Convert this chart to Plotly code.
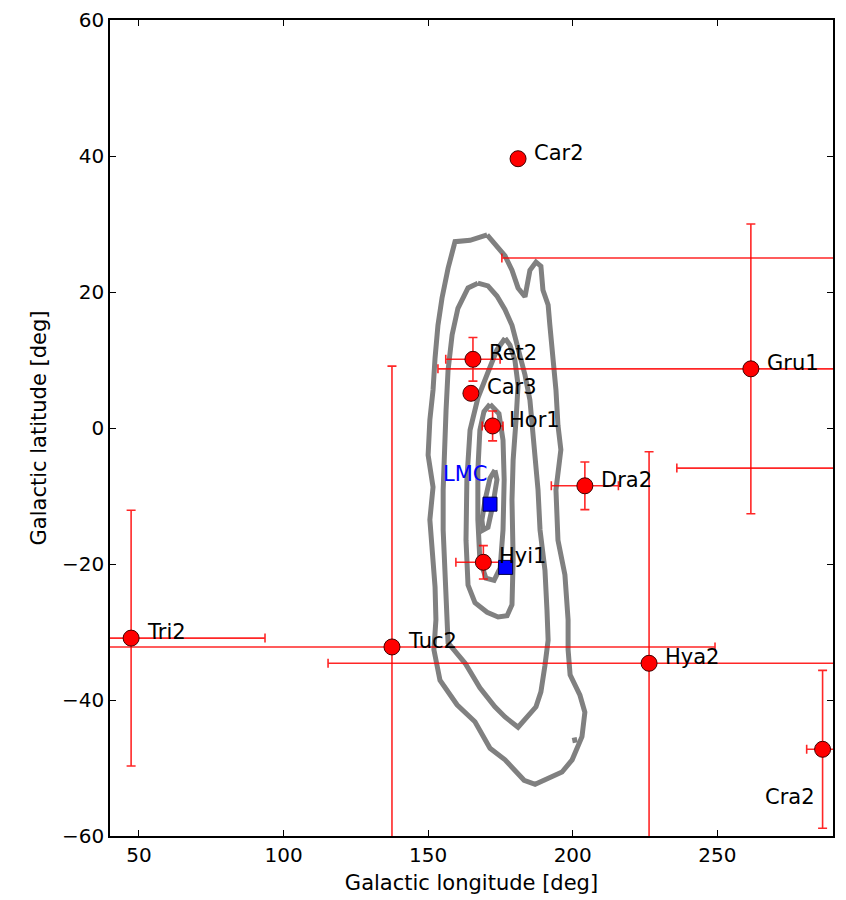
import plotly.graph_objects as go

# ---- satellites (Galactic longitude / latitude, deg) ----
names = ["Car2", "Gru1", "Ret2", "Car3", "Hor1", "Dra2", "Hyi1", "Tri2", "Tuc2", "Hya2", "Cra2", "", ""]
lon = [181.1, 261.6, 165.5, 164.8, 172.3, 204.2, 169.1, 47.3, 137.5, 226.4, 286.4, 310.0, 300.0]
lat = [39.6, 8.7, 10.1, 5.1, 0.3, -8.5, -19.75, -30.9, -32.2, -34.6, -47.25, 25.0, -5.9]
lon_err_lo = [0, 108.2, 9.4, 0, 3.6, 11.6, 9.5, 46.3, 111.7, 111.0, 5.5, 134.5, 64.0]
lon_err_hi = [0, 108.2, 9.4, 0, 3.6, 11.6, 9.5, 46.3, 111.7, 111.0, 5.5, 134.5, 64.0]
lat_err_lo = [0, 21.3, 3.2, 0, 2.2, 3.5, 2.45, 18.8, 41.3, 31.1, 11.6, 10.0, 10.0]
lat_err_hi = [0, 21.3, 3.2, 0, 2.2, 3.5, 2.45, 18.8, 41.3, 31.1, 11.6, 10.0, 10.0]

# ---- LMC ----
lmc_lon = [171.4, 176.8]
lmc_lat = [-11.2, -20.5]
lmc_name = "LMC"

# ---- LMC debris density contours ----
c1_lon = [170.4, 173.8, 176.6, 179.0, 181.1, 183.5, 185.2, 187.3, 189.0, 189.7, 191.5, 192.1, 193.2,
          194.2, 194.9, 195.9, 194.2, 194.9, 197.3, 198.4, 198.4, 199.1, 202.5, 204.2, 203.2, 199.8,
          196.3, 192.8, 187.0, 183.2, 176.6, 171.4, 166.2, 160.0, 154.1, 152.0, 152.7, 152.4, 151.7,
          150.6, 151.7, 150.0, 150.6, 151.7, 152.4, 153.4, 154.8, 156.9, 159.3, 164.5, 170.4]
c1_lat = [28.4, 26.8, 25.3, 23.2, 20.6, 19.3, 23.2, 24.4, 23.8, 20.3, 18.1, 15.1, 10.7,
          5.6, 0.4, -3.2, -9.1, -16.5, -21.6, -28.2, -32.6, -36.3, -39.3, -41.8, -45.4, -48.8,
          -50.6, -51.3, -52.4, -51.8, -48.8, -47.1, -43.2, -40.7, -37.1, -32.6, -28.2, -23.4, -18.4,
          -13.5, -8.7, -4.0, 1.2, 5.6, 10.3, 15.1, 19.1, 23.5, 27.4, 27.6, 28.4]
c1b_lon = [200.5, 200.9]
c1b_lat = [-45.5, -46.3]
c2_lon = [167.2, 170.7, 173.8, 176.6, 179.0, 181.1, 183.5, 185.2, 185.9, 187.0, 188.0, 188.7, 190.4,
          191.1, 191.5, 190.4, 189.0, 187.3, 183.5, 181.1, 176.6, 173.1, 167.9, 162.8, 156.9, 156.5,
          155.8, 155.2, 155.2, 155.5, 156.2, 156.9, 158.3, 160.3, 163.8, 167.2]
c2_lat = [21.3, 20.9, 19.4, 17.4, 15.1, 11.5, 7.8, 4.1, 0.4, -3.2, -9.1, -15.0, -20.9,
          -26.8, -31.2, -34.9, -38.8, -41.0, -42.9, -44.0, -42.5, -41.0, -38.2, -34.6, -31.6, -26.8,
          -20.9, -15.0, -9.1, -3.2, 2.6, 8.5, 13.7, 17.6, 20.6, 21.3]
c3_lon = [176.6, 173.8, 170.7, 167.2, 164.5, 163.4, 163.1, 163.8, 166.2, 170.4, 174.2, 177.3, 179.0,
          179.4, 179.0, 179.4, 180.4, 181.1, 180.0, 178.3, 176.6]
c3_lat = [13.2, 11.5, 8.2, 4.4, -0.3, -7.6, -16.5, -23.1, -25.7, -27.1, -27.8, -27.6, -26.0,
          -19.4, -10.6, -4.7, 1.2, 6.3, 10.0, 12.2, 13.2]
c4_lon = [171.4, 169.3, 167.9, 167.2, 167.2, 167.9, 170.0, 172.8, 174.9, 175.9, 176.3, 175.9, 174.5, 171.4]
c4_lat = [3.5, 2.4, -0.3, -6.2, -13.5, -19.4, -22.1, -22.4, -20.6, -15.0, -7.6, -1.8, 2.1, 3.5]
c5_lon = [173.1, 171.4, 169.7, 168.6, 169.0, 170.7, 172.4, 173.8, 173.1]
c5_lat = [-6.2, -7.4, -10.6, -13.5, -15.0, -14.6, -11.3, -7.6, -6.2]

contours = [(c1_lon, c1_lat), (c1b_lon, c1b_lat), (c2_lon, c2_lat), (c3_lon, c3_lat),
            (c4_lon, c4_lat), (c5_lon, c5_lat)]

x_ticks = [50, 100, 150, 200, 250]
y_ticks = [-60, -40, -20, 0, 20, 40, 60]
x_title = "Galactic longitude [deg]"
y_title = "Galactic latitude [deg]"

FONT = "DejaVu Sans"
GREY = "#808080"
RED = "#ff0000"

fig = go.Figure()

for cx, cy in contours:
    fig.add_trace(go.Scatter(x=cx, y=cy, mode="lines",
                             line=dict(color=GREY, width=5), hoverinfo="skip"))

fig.add_trace(go.Scatter(
    x=lon, y=lat, mode="markers",
    marker=dict(color=RED, size=16, line=dict(color="#400000", width=1)),
    error_x=dict(type="data", symmetric=False, array=lon_err_hi, arrayminus=lon_err_lo,
                 color="rgba(255,0,0,0.85)", thickness=1.6, width=4.5),
    error_y=dict(type="data", symmetric=False, array=lat_err_hi, arrayminus=lat_err_lo,
                 color="rgba(255,0,0,0.85)", thickness=1.6, width=4.5),
    hoverinfo="skip"))

fig.add_trace(go.Scatter(
    x=lmc_lon, y=lmc_lat, mode="markers",
    marker=dict(color="#0000ff", size=14, symbol="square", line=dict(color="#000040", width=1)),
    hoverinfo="skip"))

# labels
special = {"Cra2": dict(xanchor="center", xshift=-33, yshift=-48)}
for n, x, y in zip(names, lon, lat):
    if not n:
        continue
    kw = special.get(n, dict(xanchor="left", xshift=14, yshift=6))
    fig.add_annotation(x=x, y=y, text=n, showarrow=False, yanchor="middle",
                       font=dict(family=FONT, size=21, color="black"), **kw)

fig.add_annotation(x=lmc_lon[0], y=lmc_lat[0], text=lmc_name, showarrow=False,
                   xanchor="center", yanchor="middle", xshift=-25, yshift=30,
                   font=dict(family=FONT, size=21, color="#0000ff"))

axis_common = dict(showgrid=False, zeroline=False, showline=True, mirror="allticks",
                   linecolor="black", linewidth=1.5, ticks="inside", ticklen=6,
                   tickwidth=1.2, tickcolor="black", automargin=False,
                   tickfont=dict(family=FONT, size=20, color="black"))

fig.update_layout(
    width=846, height=900,
    margin=dict(l=110, r=13, t=20, b=64),
    paper_bgcolor="white", plot_bgcolor="white",
    showlegend=False,
    font=dict(family=FONT, color="black"),
    xaxis=dict(range=[40, 290], tickvals=x_ticks,
               title=dict(text=x_title, font=dict(family=FONT, size=21), standoff=10),
               **axis_common),
    yaxis=dict(range=[-60, 60], tickvals=y_ticks,
               title=dict(text=y_title, font=dict(family=FONT, size=21), standoff=10),
               **axis_common),
)

fig.write_html("out.html")
